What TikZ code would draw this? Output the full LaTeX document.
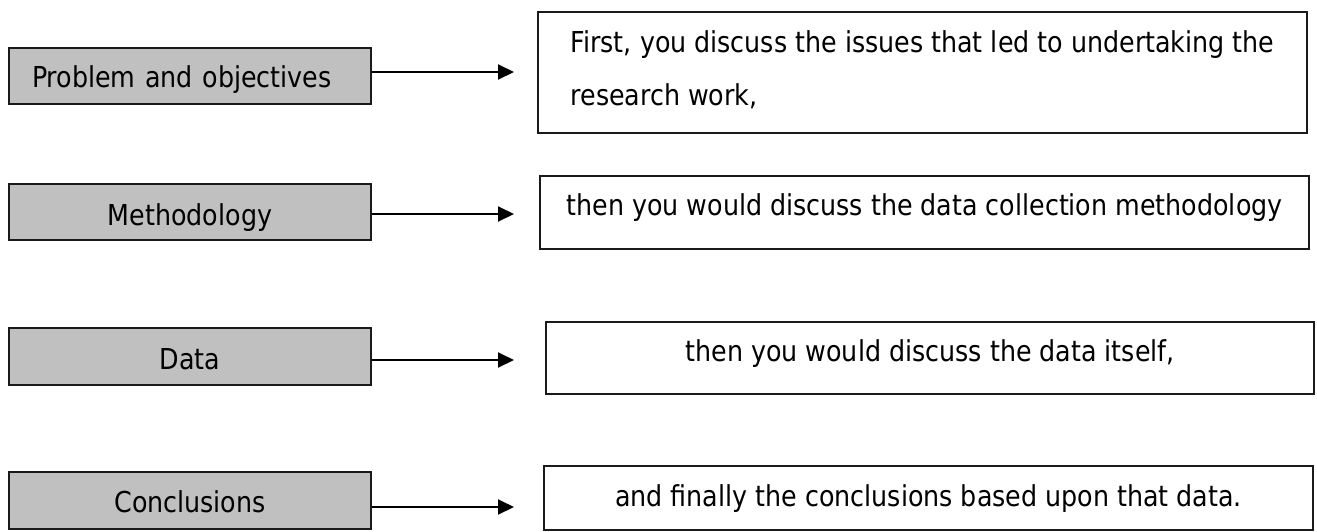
\documentclass[tikz,border=0pt]{standalone}
\usepackage{fontspec}
\setmainfont{DejaVu Sans}[FakeStretch=0.88]
\usetikzlibrary{arrows.meta}
\definecolor{boxgray}{HTML}{C0C0C0}
\definecolor{boxline}{HTML}{1A1A1A}
\begin{document}
\begin{tikzpicture}[x=1pt,y=-1pt,
  every node/.style={font=\fontsize{28.8}{53.4}\selectfont, text=black},
  gbox/.style={draw=boxline, line width=2pt, fill=boxgray, minimum width=362pt,
    minimum height=56.5pt, inner sep=0pt, text height=24pt, text depth=0pt},
  wbox/.style={draw=boxline, line width=2pt, fill=white, minimum width=769pt,
    inner sep=0pt, text depth=0pt},
  arr/.style={draw=black, line width=2pt, -{Triangle[length=16pt,width=15pt]}}]
\useasboundingbox (0,0) rectangle (1317,531);

% left grey boxes
\node[gbox, align=left, text width=316pt, inner xsep=23pt, text height=22pt] (g1) at (190,76) {Problem and objectives};
\node[gbox, text height=26pt] (g2) at (190,212) {Methodology};
\node[gbox, text height=25pt] (g3) at (190,356.5) {Data};
\node[gbox, text height=23pt] (g4) at (190,500.5) {Conclusions};

% right white boxes
\node[wbox, minimum height=121pt, inner xsep=21pt, text height=21pt, text depth=61.4pt] (r1) at (922.5,72.5)
  {\vtop{\hsize=727pt \hbox{First, you discuss the issues that led to undertaking the}\hbox{research work,}}};
\node[wbox, minimum height=73pt, text height=6.4pt] (r2) at (924.5,212.3) {then you would discuss the data collection methodology};
\node[wbox, minimum width=768pt, minimum height=72pt, text height=6pt] (r3) at (930,358) {then you would discuss the data itself,};
\node[wbox, minimum height=64pt, text height=16pt] (r4) at (928.5,498) {and finally the conclusions based upon that data.};

% arrow tips
\coordinate (e1) at (514,72);
\coordinate (e2) at (514,214);
\coordinate (e3) at (514,360);
\coordinate (e4) at (514,507);

\draw[arr] (g1.east |- e1) -- (e1);
\draw[arr] (g2.east |- e2) -- (e2);
\draw[arr] (g3.east |- e3) -- (e3);
\draw[arr] (g4.east |- e4) -- (e4);
\end{tikzpicture}
\end{document}
